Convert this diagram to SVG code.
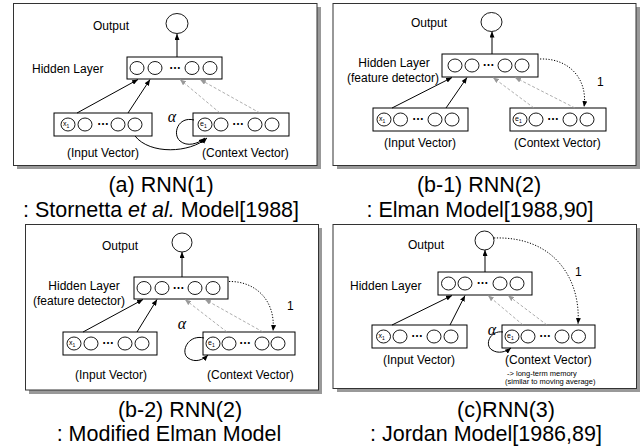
<svg xmlns="http://www.w3.org/2000/svg" width="640" height="448" viewBox="0 0 640 448">
<defs>
<style>
.shadow{fill:#999}
.frame{fill:#fff;stroke:#333;stroke-width:1}
.box{fill:#fff;stroke:#000;stroke-width:1}
.u{fill:#fff;stroke:#000;stroke-width:0.9}
.lbl{font-family:"Liberation Sans",Arial,sans-serif;font-size:12px;fill:#000}
.sm{font-family:"Liberation Sans",Arial,sans-serif;font-size:7.5px;fill:#000}
.var{font-family:"Liberation Sans",Arial,sans-serif;font-size:7px;fill:#000}
.dt{font-family:"Liberation Sans",Arial,sans-serif;font-size:12px;font-weight:bold;fill:#000;text-anchor:middle}
.cap{font-family:"Liberation Sans",Arial,sans-serif;font-size:21.5px;fill:#000;text-anchor:middle}
.al{font-family:"Liberation Serif","Times New Roman",serif;font-style:italic;font-size:16px;fill:#000;text-anchor:middle}
.solid{stroke:#000;stroke-width:1;fill:none;marker-end:url(#ab)}
.dash{stroke:#999;stroke-width:0.8;stroke-dasharray:3 2;fill:none;marker-end:url(#ag)}
.dot{stroke:#000;stroke-width:1;stroke-dasharray:1.2 1.6;fill:none;marker-end:url(#ab)}
</style>
<marker id="ab" viewBox="0 0 10 10" refX="10" refY="5" markerWidth="6" markerHeight="5" markerUnits="userSpaceOnUse" orient="auto" preserveAspectRatio="none"><path d="M0,0 L10,5 L0,10 z" fill="#000"/></marker>
<marker id="ag" viewBox="0 0 10 10" refX="10" refY="5" markerWidth="6" markerHeight="5" markerUnits="userSpaceOnUse" orient="auto" preserveAspectRatio="none"><path d="M0,0 L10,5 L0,10 z" fill="#999"/></marker>
</defs>
<rect width="640" height="448" fill="#fff"/>

<!-- Panel (a) -->
<g id="panel-a">
<rect class="shadow" x="17" y="7" width="304" height="162"/>
<rect class="frame" x="13.5" y="3.5" width="303.5" height="162"/>
<text class="lbl" x="93" y="29.5">Output</text>
<text class="lbl" x="32" y="72.5">Hidden Layer</text>
<text class="lbl" x="67" y="157">(Input Vector)</text>
<text class="lbl" x="202" y="157">(Context Vector)</text>
<g id="a-output"><ellipse class="u" cx="177" cy="23.5" rx="11" ry="10"/></g>
<g id="a-hidden"><rect class="box" x="127" y="57" width="95" height="22"/>
<ellipse class="u" cx="137" cy="68" rx="7" ry="6.5"/><ellipse class="u" cx="155" cy="68" rx="7" ry="6.5"/>
<ellipse class="u" cx="192" cy="68" rx="7" ry="6.5"/><ellipse class="u" cx="210" cy="68" rx="7" ry="6.5"/>
<text class="dt" x="175" y="68.5">…</text></g>
<g id="a-input"><rect class="box" x="54" y="113" width="98" height="23"/>
<ellipse class="u" cx="68" cy="124.5" rx="7" ry="6.5"/><ellipse class="u" cx="85" cy="124.5" rx="7" ry="6.5"/>
<ellipse class="u" cx="118" cy="124.5" rx="7" ry="6.5"/><ellipse class="u" cx="135" cy="124.5" rx="7" ry="6.5"/>
<text class="var" x="63" y="126">x<tspan font-size="5" dy="1.5">1</tspan></text>
<text class="dt" x="103" y="125">…</text></g>
<g id="a-context"><rect class="box" x="193" y="113" width="96" height="23"/>
<ellipse class="u" cx="205" cy="124.5" rx="7" ry="6.5"/><ellipse class="u" cx="221" cy="124.5" rx="7" ry="6.5"/>
<ellipse class="u" cx="255" cy="124.5" rx="7" ry="6.5"/><ellipse class="u" cx="272" cy="124.5" rx="7" ry="6.5"/>
<text class="var" x="200" y="126">e<tspan font-size="5" dy="1.5">1</tspan></text>
<text class="dt" x="238" y="125">…</text></g>
<text class="al" x="172" y="122">α</text>
<g id="a-connectors">
<line class="solid" x1="177" y1="57" x2="177" y2="34"/>
<line class="solid" x1="77" y1="113" x2="138" y2="79.5"/>
<line class="solid" x1="128" y1="113" x2="150" y2="79.5"/>
<line class="dash" x1="220" y1="113" x2="180" y2="79.5"/>
<line class="dash" x1="260" y1="113" x2="200" y2="79.5"/>
<path class="solid" d="M135,136 C150,155 190,153 207,138"/>
<path class="solid" d="M194,120 C178,116 172,134 180,141 C187,147 198,144 205,138"/>
</g>
</g>

<!-- Panel (b-1) -->
<g id="panel-b1">
<rect class="shadow" x="337" y="7" width="303" height="162"/>
<rect class="frame" x="333" y="3.5" width="303" height="162"/>
<text class="lbl" x="411" y="27">Output</text>
<text class="lbl" x="394" y="67" text-anchor="middle">Hidden Layer</text>
<text class="lbl" x="393" y="82" text-anchor="middle">(feature detector)</text>
<text class="lbl" x="384" y="147">(Input Vector)</text>
<text class="lbl" x="514" y="147">(Context Vector)</text>
<text class="lbl" x="597" y="86">1</text>
<g id="b1-output"><ellipse class="u" cx="491.5" cy="22" rx="10.5" ry="9.5"/></g>
<g id="b1-hidden"><rect class="box" x="442" y="54" width="96" height="23"/>
<ellipse class="u" cx="455" cy="65.5" rx="7" ry="6.5"/><ellipse class="u" cx="472" cy="65.5" rx="7" ry="6.5"/>
<ellipse class="u" cx="505" cy="65.5" rx="7" ry="6.5"/><ellipse class="u" cx="522" cy="65.5" rx="7" ry="6.5"/>
<text class="dt" x="488.5" y="66">…</text></g>
<g id="b1-input"><rect class="box" x="373" y="108" width="95" height="23"/>
<ellipse class="u" cx="384" cy="119.5" rx="7" ry="6.5"/><ellipse class="u" cx="400.5" cy="119.5" rx="7" ry="6.5"/>
<ellipse class="u" cx="435" cy="119.5" rx="7" ry="6.5"/><ellipse class="u" cx="452" cy="119.5" rx="7" ry="6.5"/>
<text class="var" x="379" y="121">x<tspan font-size="5" dy="1.5">1</tspan></text>
<text class="dt" x="418" y="120">…</text></g>
<g id="b1-context"><rect class="box" x="510" y="108" width="96" height="23"/>
<ellipse class="u" cx="520" cy="119.5" rx="7" ry="6.5"/><ellipse class="u" cx="536" cy="119.5" rx="7" ry="6.5"/>
<ellipse class="u" cx="570" cy="119.5" rx="7" ry="6.5"/><ellipse class="u" cx="587" cy="119.5" rx="7" ry="6.5"/>
<text class="var" x="515" y="121">e<tspan font-size="5" dy="1.5">1</tspan></text>
<text class="dt" x="553" y="120">…</text></g>
<g id="b1-connectors">
<line class="solid" x1="492" y1="54" x2="492" y2="31.5"/>
<line class="solid" x1="392" y1="108" x2="452" y2="77.5"/>
<line class="solid" x1="446" y1="108" x2="467" y2="77.5"/>
<line class="dash" x1="534" y1="108" x2="493" y2="77.5"/>
<line class="dash" x1="575" y1="108" x2="515" y2="77.5"/>
<path class="dot" d="M540,59 C570,58 588,80 584,107"/>
</g>
</g>

<!-- Panel (b-2) -->
<g id="panel-b2">
<rect class="shadow" x="29" y="228" width="293" height="166"/>
<rect class="frame" x="25.5" y="224.5" width="293" height="165.5"/>
<text class="lbl" x="102" y="250">Output</text>
<text class="lbl" x="84" y="290" text-anchor="middle">Hidden Layer</text>
<text class="lbl" x="79" y="305" text-anchor="middle">(feature detector)</text>
<text class="lbl" x="75" y="378.5">(Input Vector)</text>
<text class="lbl" x="207" y="378.5">(Context Vector)</text>
<text class="lbl" x="287" y="310">1</text>
<g id="b2-output"><ellipse class="u" cx="182" cy="242.5" rx="10" ry="9.5"/></g>
<g id="b2-hidden"><rect class="box" x="134" y="277" width="94" height="22"/>
<ellipse class="u" cx="144" cy="288" rx="7" ry="6.5"/><ellipse class="u" cx="162" cy="288" rx="7" ry="6.5"/>
<ellipse class="u" cx="195" cy="288" rx="7" ry="6.5"/><ellipse class="u" cx="213" cy="288" rx="7" ry="6.5"/>
<text class="dt" x="178.5" y="288.5">…</text></g>
<g id="b2-input"><rect class="box" x="63" y="332" width="94" height="23"/>
<ellipse class="u" cx="74" cy="343.5" rx="7" ry="6.5"/><ellipse class="u" cx="91" cy="343.5" rx="7" ry="6.5"/>
<ellipse class="u" cx="125" cy="343.5" rx="7" ry="6.5"/><ellipse class="u" cx="142" cy="343.5" rx="7" ry="6.5"/>
<text class="var" x="69" y="345">x<tspan font-size="5" dy="1.5">1</tspan></text>
<text class="dt" x="108" y="344">…</text></g>
<g id="b2-context"><rect class="box" x="203" y="332" width="92" height="23"/>
<ellipse class="u" cx="213" cy="343.5" rx="7" ry="6.5"/><ellipse class="u" cx="229" cy="343.5" rx="7" ry="6.5"/>
<ellipse class="u" cx="262" cy="343.5" rx="7" ry="6.5"/><ellipse class="u" cx="278" cy="343.5" rx="7" ry="6.5"/>
<text class="var" x="208" y="345">e<tspan font-size="5" dy="1.5">1</tspan></text>
<text class="dt" x="245" y="344">…</text></g>
<text class="al" x="182" y="328.5">α</text>
<g id="b2-connectors">
<line class="solid" x1="182" y1="277" x2="182" y2="252"/>
<line class="solid" x1="83" y1="332" x2="143" y2="299.5"/>
<line class="solid" x1="137" y1="332" x2="157" y2="299.5"/>
<line class="dash" x1="227" y1="332" x2="185" y2="299.5"/>
<line class="dash" x1="263" y1="332" x2="205" y2="299.5"/>
<path class="dot" d="M229,281.5 C255,281 276,300 273,331"/>
<path class="solid" d="M204,338 C188,334 180,352 188,358 C195,363 203,360 208,355"/>
</g>
</g>

<!-- Panel (c) -->
<g id="panel-c">
<rect class="shadow" x="337" y="228" width="303" height="164"/>
<rect class="frame" x="333" y="224.5" width="303.5" height="164"/>
<text class="lbl" x="408" y="248.5">Output</text>
<text class="lbl" x="350" y="290">Hidden Layer</text>
<text class="lbl" x="383" y="364">(Input Vector)</text>
<text class="lbl" x="505" y="364">(Context Vector)</text>
<text class="sm" x="507" y="376">-&gt; long-term memory</text>
<text class="sm" x="505" y="383.5">(similar to moving average)</text>
<text class="lbl" x="575" y="276">1</text>
<g id="c-output"><ellipse class="u" cx="484.5" cy="240.5" rx="9.5" ry="9.5"/></g>
<g id="c-hidden"><rect class="box" x="438" y="272" width="94" height="23"/>
<ellipse class="u" cx="448.5" cy="283.5" rx="7" ry="6.5"/><ellipse class="u" cx="465" cy="283.5" rx="7" ry="6.5"/>
<ellipse class="u" cx="500" cy="283.5" rx="7" ry="6.5"/><ellipse class="u" cx="517" cy="283.5" rx="7" ry="6.5"/>
<text class="dt" x="482.5" y="284">…</text></g>
<g id="c-input"><rect class="box" x="372" y="325" width="95" height="23"/>
<ellipse class="u" cx="383.5" cy="336.5" rx="7" ry="6.5"/><ellipse class="u" cx="400" cy="336.5" rx="7" ry="6.5"/>
<ellipse class="u" cx="434" cy="336.5" rx="7" ry="6.5"/><ellipse class="u" cx="451" cy="336.5" rx="7" ry="6.5"/>
<text class="var" x="378.5" y="338">x<tspan font-size="5" dy="1.5">1</tspan></text>
<text class="dt" x="417" y="337">…</text></g>
<g id="c-context"><rect class="box" x="502" y="325" width="93" height="23"/>
<ellipse class="u" cx="512" cy="336.5" rx="7" ry="6.5"/><ellipse class="u" cx="528" cy="336.5" rx="7" ry="6.5"/>
<ellipse class="u" cx="562" cy="336.5" rx="7" ry="6.5"/><ellipse class="u" cx="578.5" cy="336.5" rx="7" ry="6.5"/>
<text class="var" x="507" y="338">e<tspan font-size="5" dy="1.5">1</tspan></text>
<text class="dt" x="545" y="337">…</text></g>
<text class="al" x="492" y="335">α</text>
<g id="c-connectors">
<line class="solid" x1="485" y1="272" x2="485" y2="250"/>
<line class="solid" x1="392" y1="325" x2="452" y2="295.5"/>
<line class="solid" x1="450" y1="325" x2="465" y2="295.5"/>
<line class="dash" x1="523" y1="325" x2="488" y2="295.5"/>
<line class="dash" x1="547" y1="325" x2="508" y2="295.5"/>
<path class="dot" d="M494,238 C555,236 581,280 578,324"/>
<path class="solid" d="M503,332 C490,330 484,345 492,350 C498,354 506,352 511,348"/>
</g>
</g>

<!-- Captions -->
<g id="captions">
<text class="cap" x="161" y="192">(a) RNN(1)</text>
<text class="cap" x="161" y="217">: Stornetta <tspan font-style="italic">et al.</tspan> Model[1988]</text>
<text class="cap" x="479" y="192">(b-1) RNN(2)</text>
<text class="cap" x="480" y="217">: Elman Model[1988,90]</text>
<text class="cap" x="180" y="417">(b-2) RNN(2)</text>
<text class="cap" x="169" y="441">: Modified Elman Model</text>
<text class="cap" x="506" y="417">(c)RNN(3)</text>
<text class="cap" x="486" y="441">: Jordan Model[1986,89]</text>
</g>
</svg>
